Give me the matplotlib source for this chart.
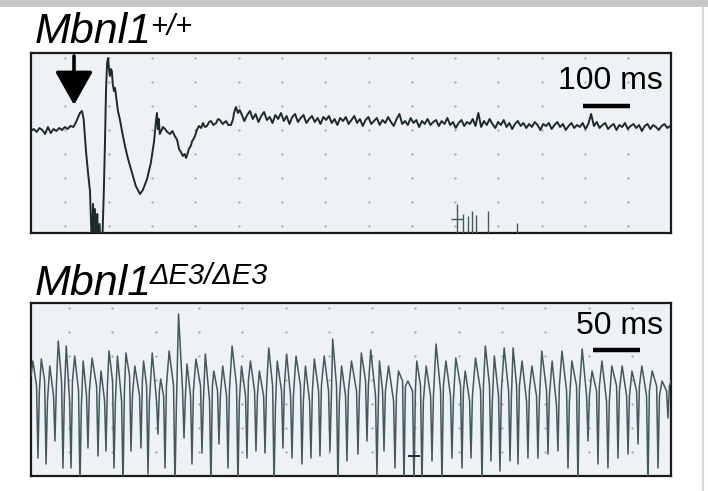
import numpy as np
import matplotlib
matplotlib.use('Agg')
import matplotlib.pyplot as plt
from matplotlib.patches import Rectangle
from matplotlib.lines import Line2D

# ---- Mbnl1 +/+ trace (ms, mV) ----
wt_t = [0, 6, 12, 18, 24, 30, 36, 42, 48, 54, 60, 66, 72, 78, 84, 90, 96,
        104, 108.5, 112, 117, 121, 125.5, 130, 132, 134, 136, 139, 141, 143, 146, 148, 151,
        155, 157.5, 159.6, 162, 164, 166, 168, 170, 172, 174, 176.6, 179, 181, 185, 189,
        193.6, 200, 206, 215, 223, 232, 238, 247, 255, 262, 266, 268, 270, 272, 274, 277,
        281, 285, 290, 296, 301, 306, 311, 315, 319, 323, 327, 330, 333, 336, 340, 343,
        346, 349, 353, 357.5, 362, 366, 370, 374.5, 379, 383, 388, 394, 398, 402, 408,
        415, 420, 425.6, 430, 432, 436, 440.5, 444]
wt_v = [-0.04, 0.00, -0.06, 0.02, -0.02, -0.10, 0.04, -0.08, 0.00, -0.04, 0.02, -0.02, 0.04, 0.00, 0.06, 0.04, 0.14,
        0.32, 0.36, 0.20, -0.44, -0.84, -1.24, -2.5, -1.5, -2.5, -1.6, -2.5, -1.7, -2.5, -1.9, -2.5, -2.5,
        -1.24, -0.24, 0.76, 1.32, 1.42, 1.20, 1.06, 1.20, 1.16, 0.90, 0.76, 0.82, 0.66, 0.36, 0.20,
        -0.04, -0.34, -0.58, -0.88, -1.14, -1.30, -1.22, -1.00, -0.68, -0.24, 0.16, 0.32, 0.00, 0.20, -0.10, -0.04,
        0.04, 0.00, -0.06, -0.10, -0.04, -0.14, -0.22, -0.40, -0.46, -0.54, -0.50, -0.58, -0.50, -0.40, -0.34, -0.24,
        -0.20, -0.14, -0.02, 0.06, 0.02, 0.12, 0.04, 0.06, 0.14, 0.16, 0.08, 0.12, 0.20, 0.18, 0.10,
        0.16, 0.08, 0.08, 0.20, 0.32, 0.44, 0.32, 0.38]

# tail of the trace sampled every 6 ms from 448 ms
wt_tail_start = 448
wt_tail_step = 6
wt_tail_v = [0.30, 0.16, 0.28, 0.36, 0.20, 0.30, 0.14, 0.26, 0.34, 0.18,
             0.24, 0.12, 0.28, 0.20, 0.32, 0.16, 0.26, 0.10, 0.24, 0.30,
             0.14, 0.22, 0.28, 0.12, 0.20, 0.26, 0.14, 0.22, 0.10, 0.24,
             0.18, 0.26, 0.12, 0.20, 0.08, 0.22, 0.16, 0.24, 0.10, 0.18,
             0.26, 0.12, 0.20, 0.06, 0.18, 0.24, 0.10, 0.16, 0.22, 0.08,
             0.18, 0.12, 0.24, 0.14, 0.06, 0.20, 0.30, 0.10, 0.16, 0.08,
             0.22, 0.12, 0.18, 0.04, 0.16, 0.10, 0.20, 0.08, 0.14, 0.18,
             0.06, 0.16, 0.10, 0.22, 0.08, 0.14, 0.02, 0.12, 0.18, 0.06,
             0.14, 0.10, 0.20, 0.06, 0.32, 0.04, 0.16, 0.08, 0.20, 0.10,
             0.02, 0.14, 0.08, 0.18, 0.04, 0.12, 0.00, 0.10, 0.16, 0.06,
             0.12, 0.02, 0.10, 0.04, 0.14, 0.08, -0.02, 0.10, 0.06, 0.12,
             0.00, 0.08, 0.14, 0.04, 0.10, -0.02, 0.06, 0.12, 0.02, 0.08,
             0.04, 0.12, 0.00, 0.10, 0.30, 0.06, 0.14, 0.02, 0.08, 0.12,
             0.00, 0.06, 0.10, -0.02, 0.08, 0.04, 0.12, 0.00, 0.06, 0.10,
             0.02, 0.08, -0.04, 0.06, 0.10, 0.00, 0.08, 0.04, -0.02, 0.06,
             0.10, 0.02, 0.06]

# small artifacts near the bottom of the +/+ trace
art_t = [906, 919, 930, 938, 947, 972, 1034]
art_top = [-1.50, -1.70, -1.74, -1.64, -1.72, -1.64, -1.88]

# ---- Mbnl1 dE3/dE3 trace (ms, mV) ----
# each discharge: peak -> shoulder -> trough -> recovery
ko_start = (0, -0.10)
ko_end = (681, -0.20)
peak_t = [2.0, 11, 20, 29, 37.5, 46.5, 55.5, 65, 74.5, 83,
          92, 101, 110.5, 119.8, 129, 138, 147, 157, 166, 175.5,
          185.5, 194.5, 204, 214, 224, 233.5, 243, 253, 262, 272,
          282, 292, 301.5, 312, 321, 330.5, 341, 351.5, 361.5, 370.8,
          380.5, 391, 401, 410.5, 420.5, 431, 441.5, 452, 462, 473,
          483.5, 493, 503.5, 513, 522.5, 533, 543.5, 554.5, 565, 575.5,
          586.5, 597, 607.5, 618, 629, 639.5, 650, 661, 671.5]
peak_v = [0.20, 0.24, 0.10, 0.60, 0.50, 0.30, 0.20, 0.26, 0.00, 0.40,
          0.30, 0.36, 0.10, 0.20, 0.36, -0.16, 0.40, 1.14, 0.14, 0.24,
          0.34, 0.00, 0.10, 0.50, 0.10, 0.20, 0.00, 0.46, 0.20, 0.34,
          0.30, 0.10, 0.24, 0.30, 0.64, 0.10, 0.20, 0.36, 0.42, 0.20,
          0.10, 0.00, -0.20, 0.20, 0.10, 0.54, 0.20, 0.26, 0.00, 0.26,
          0.50, 0.30, 0.46, 0.46, 0.20, 0.10, 0.40, 0.20, 0.40, 0.20,
          0.44, 0.00, 0.20, 0.10, 0.10, 0.00, 0.10, 0.00, -0.20]
shoulder_t = [5.9, 14.5, 24.0, 32.5, 41.1, 50.6, 59.1, 69.8, 78.3, 86.8,
              96.4, 104.9, 115.5, 123.0, 133.6, 141.1, 151.7, 161.3, 169.8, 180.4,
              190.0, 198.5, 208.1, 218.7, 228.3, 237.9, 247.5, 257.1, 266.6, 276.2,
              286.8, 296.4, 306.0, 316.6, 325.1, 334.7, 346.4, 356.0, 366.6, 374.1,
              385.8, 395.4, 406.0, 414.5, 425.2, 435.8, 446.4, 457.1, 466.7, 478.4,
              487.9, 497.5, 508.2, 516.7, 527.3, 537.9, 548.6, 559.2, 569.9, 580.5,
              591.2, 601.8, 612.4, 623.1, 633.8, 644.4, 655.0, 665.7, 676.3]
shoulder_v = [-0.3, -0.2, -0.5, -0.2, -0.6, -0.4, -0.5, -0.3, -0.6, -0.2,
              -0.6, -0.1, -0.5, -0.3, -0.6, -0.5, -0.3, -0.4, -0.5, -0.3,
              -0.6, -0.4, -0.5, -0.3, -0.5, -0.4, -0.5, -0.3, -0.4, -0.5,
              -0.3, -0.6, -0.4, -0.4, -0.3, -0.5, -0.4, -0.2, -0.5, -0.4,
              -0.6, -0.2, -0.4, -0.3, -0.5, -0.4, -0.5, -0.3, -0.6, -0.4,
              -0.3, -0.5, -0.4, -0.3, -0.6, -0.5, -0.4, -0.7, -0.4, -0.3,
              -0.5, -0.4, -0.6, -0.3, -0.5, -0.4, -0.5, -0.3, -0.4]
trough_t = [7.4, 16.0, 25.5, 34.0, 42.6, 52.1, 60.6, 71.3, 79.8, 88.3,
            97.9, 106.4, 117.0, 124.5, 135.1, 142.6, 153.2, 162.8, 171.3, 181.9,
            191.5, 200.0, 209.6, 220.2, 229.8, 239.4, 249.0, 258.6, 268.1, 277.7,
            288.3, 297.9, 307.5, 318.1, 326.6, 336.2, 347.9, 357.5, 368.1, 375.6,
            387.3, 396.9, 407.5, 416.0, 426.7, 437.3, 447.9, 458.6, 468.2, 479.9,
            489.4, 499.0, 509.7, 518.2, 528.8, 539.4, 550.1, 560.7, 571.4, 582.0,
            592.7, 603.3, 613.9, 624.6, 635.3, 645.9, 656.5, 667.2, 677.8]
trough_v = [-1.74, -1.86, -1.40, -1.94, -1.94, -2.30, -1.54, -1.70, -1.60, -1.94,
            -2.30, -1.60, -1.54, -2.06, -1.26, -1.94, -2.30, -1.34, -1.86, -1.64,
            -2.30, -1.46, -1.94, -2.30, -1.74, -1.60, -1.64, -2.30, -1.54, -1.74,
            -1.86, -1.74, -1.70, -1.60, -2.30, -1.80, -1.66, -1.40, -2.10, -1.60,
            -1.94, -2.30, -2.30, -2.30, -1.80, -2.30, -1.74, -1.94, -1.74, -2.30,
            -1.80, -2.00, -1.80, -1.86, -1.74, -1.74, -1.66, -1.60, -1.94, -2.30,
            -1.40, -1.86, -1.94, -1.74, -1.66, -1.46, -2.30, -1.94, -0.94]
recover_t = [8.9, 17.5, 27.0, 35.5, 44.1, 53.6, 62.1, 72.8, 81.3, 89.8,
             99.4, 107.9, 118.5, 126.0, 136.6, 144.1, 154.7, 164.3, 172.8, 183.4,
             193.0, 201.5, 211.1, 221.7, 231.3, 240.9, 250.5, 260.1, 269.6, 279.2,
             289.8, 299.4, 309.0, 319.6, 328.1, 337.7, 349.4, 359.0, 369.6, 377.1,
             388.8, 398.4, 409.0, 417.5, 428.2, 438.8, 449.4, 460.1, 469.7, 481.4,
             490.9, 500.5, 511.2, 519.7, 530.3, 540.9, 551.6, 562.2, 572.9, 583.5,
             594.2, 604.8, 615.4, 626.1, 636.8, 647.4, 658.0, 668.7, 679.3]
recover_v = [-0.4, -0.6, -0.3, -0.5, -0.2, -0.7, -0.4, -0.5, -0.3, -0.6,
             -0.4, -0.5, -0.2, -0.6, -0.4, -0.3, -0.7, -0.5, -0.4, -0.6,
             -0.3, -0.5, -0.4, -0.6, -0.2, -0.5, -0.4, -0.7, -0.3, -0.5,
             -0.6, -0.4, -0.3, -0.5, -0.6, -0.4, -0.5, -0.3, -0.6, -0.4,
             -0.5, -0.3, -0.4, -0.6, -0.5, -0.3, -0.6, -0.4, -0.5, -0.3,
             -0.6, -0.4, -0.5, -0.3, -0.4, -0.6, -0.5, -0.3, -0.6, -0.4,
             -0.5, -0.3, -0.6, -0.4, -0.5, -0.3, -0.4, -0.5, -0.3]

BG = '#eef2f5'
TRACE1 = '#1c2a2d'
TRACE2 = '#405a5e'
DOT = '#9ba6ab'

W, H = 708, 491
fig = plt.figure(figsize=(W / 100, H / 100), dpi=100)
fig.patch.set_facecolor('white')

# header band and right edge line of the original frame
fig.add_artist(Rectangle((0, 1 - 7 / H), 1, 7 / H, transform=fig.transFigure,
                         color='#c6c6c6', lw=0))
fig.add_artist(Line2D([703 / W, 703 / W], [0, 1 - 7 / H], transform=fig.transFigure,
                      color='#d6d6d6', lw=1.5))

ax1 = fig.add_axes([31 / W, 1 - 233 / H, 640 / W, 180 / H])
ax2 = fig.add_axes([31 / W, 1 - 476 / H, 640 / W, 173 / H])


def style_panel(ax, dot_x0, dot_y0, ny):
    ax.set_facecolor(BG)
    ax.set_xticks([])
    ax.set_yticks([])
    for s in ax.spines.values():
        s.set_linewidth(1.6)
        s.set_color('#1a1a1a')
    # dotted reference grid of the recording paper
    h = ax.get_position().height * H
    xs = [(dot_x0 + 43.3 * k - 31) / 640 for k in range(16) if dot_x0 + 43.3 * k < 671]
    ys = [1 - (dot_y0 + 24 * k) / h for k in range(ny)]
    gx, gy = np.meshgrid(xs, ys)
    ax.scatter(gx.ravel(), gy.ravel(), s=2.5, color=DOT, transform=ax.transAxes,
               zorder=1, lw=0)


# ---- top panel ----
style_panel(ax1, 65.4, 5, 8)
tail_t = wt_tail_start + wt_tail_step * np.arange(len(wt_tail_v))
ax1.plot(list(wt_t) + list(tail_t), list(wt_v) + list(wt_tail_v), color=TRACE1, lw=1.4, zorder=3)
ax1.vlines(art_t, -2.2, art_top, color=TRACE2, lw=1.0, zorder=3)
ax1.hlines(-1.80, 893, 919, color=TRACE2, lw=1.0, zorder=3)
ax1.set_xlim(0, 1362)
ax1.set_ylim(-2.08, 1.52)
ax1.annotate('', xy=(91.5, 0.48), xytext=(91.5, 1.46),
             arrowprops=dict(arrowstyle='-|>,head_width=0.45,head_length=0.8', lw=2.6,
                             color='black', mutation_scale=26, shrinkA=0, shrinkB=0),
             zorder=5)
ax1.plot([1175, 1275], [0.46, 0.46], color='black', lw=3.2, solid_capstyle='butt', zorder=5)
ax1.text(1345, 0.96, '100 ms', ha='right', va='center', fontsize=23,
         family='Liberation Sans', zorder=5)

# ---- bottom panel ----
style_panel(ax2, 69, 5, 7)
ko_t = [ko_start[0]]
ko_v = [ko_start[1]]
for i in range(len(trough_t)):
    ko_t += [peak_t[i], shoulder_t[i], trough_t[i], recover_t[i]]
    ko_v += [peak_v[i], shoulder_v[i], trough_v[i], recover_v[i]]
ko_t.append(ko_end[0])
ko_v.append(ko_end[1])
ax2.plot(ko_t, ko_v, color=TRACE2, lw=1.1, zorder=3)
ax2.hlines(-1.70, 401, 414, color=TRACE1, lw=1.4, zorder=3)
ax2.set_xlim(0, 681)
ax2.set_ylim(-2.1, 1.36)
ax2.plot([598, 648], [0.42, 0.42], color='black', lw=3.2, solid_capstyle='butt', zorder=5)
ax2.text(672, 0.9, '50 ms', ha='right', va='center', fontsize=23,
         family='Liberation Sans', zorder=5)

# ---- titles ----
tfont = dict(family='Liberation Sans', style='italic', color='black')
fig.text(35 / W, 1 - 43 / H, 'Mbnl1', fontsize=31, va='baseline', **tfont)
fig.text(150 / W, 1 - 35 / H, '+/+', fontsize=21, va='baseline', **tfont)
fig.text(35 / W, 1 - 295 / H, 'Mbnl1', fontsize=31, va='baseline', **tfont)
fig.text(150 / W, 1 - 284 / H, '\u0394E3/\u0394E3', fontsize=21, va='baseline', **tfont)

fig.savefig('out.png', dpi=100)
plt.close(fig)
